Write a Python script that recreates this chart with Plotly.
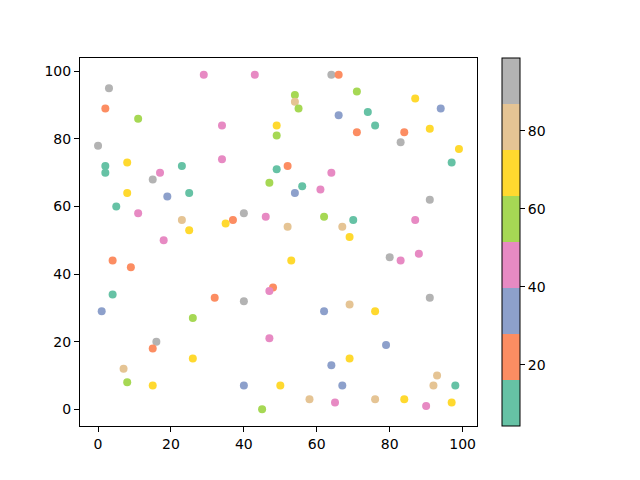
import plotly.graph_objects as go

x_vals = [29, 43, 3, 2, 11, 34, 49, 49, 0, 2, 2, 8, 23, 34, 17, 15, 49, 47, 8, 19,
          25, 5, 11, 23, 25, 37, 35, 40, 46, 18,
          64, 66, 71, 54, 54, 55, 87, 94, 66, 74, 76, 71, 84, 91, 83, 99, 97, 52, 64, 56,
          54, 61, 91, 62, 70, 52, 67, 69, 87,
          4, 9, 4, 1, 32, 40, 48, 47, 26, 16, 15, 47, 26, 7, 8, 15, 40, 50, 45,
          53, 80, 83, 88, 91, 62, 69, 76, 79, 69, 64, 67, 58, 65, 76, 84, 93, 92, 98, 90, 97]
y_vals = [99, 99, 95, 89, 86, 84, 84, 81, 78, 72, 70, 73, 72, 74, 70, 68, 71, 67, 64, 63,
          64, 60, 58, 56, 53, 56, 55, 58, 57, 50,
          99, 99, 94, 93, 91, 89, 92, 89, 87, 88, 84, 82, 82, 83, 79, 77, 73, 72, 70, 66,
          64, 65, 62, 57, 56, 54, 54, 51, 56,
          44, 42, 34, 29, 33, 32, 36, 35, 27, 20, 18, 21, 15, 12, 8, 7, 7, 7, 0,
          44, 45, 44, 46, 33, 29, 31, 29, 19, 15, 13, 7, 3, 2, 3, 3, 10, 7, 7, 1, 2]
# colour values (estimated, read from colour band)
c_vals = [46, 46, 93, 22, 57, 46, 69, 57, 93, 10, 10, 69, 10, 46, 46, 93, 10, 57, 69, 34,
          10, 10, 46, 81, 69, 22, 69, 93, 46, 46,
          93, 22, 57, 57, 81, 57, 69, 34, 34, 10, 10, 22, 22, 69, 93, 69, 10, 22, 46, 10,
          34, 46, 93, 57, 10, 81, 81, 69, 46,
          22, 22, 10, 34, 22, 93, 22, 46, 57, 93, 22, 46, 69, 81, 57, 69, 34, 69, 57,
          69, 93, 46, 46, 93, 34, 81, 69, 34, 69, 34, 34, 81, 46, 81, 69, 81, 81, 10, 46, 69]

c_min, c_max = 4.3, 98.7
set2 = ["#66c2a5", "#fc8d62", "#8da0cb", "#e78ac3", "#a6d854", "#ffd92f", "#e5c494", "#b3b3b3"]
n = len(set2)
cscale = []
for i, col in enumerate(set2):
    cscale.append([i / n, col])
    cscale.append([(i + 1) / n, col])

fig = go.Figure(go.Scatter(
    x=x_vals, y=y_vals, mode="markers",
    marker=dict(size=8, color=c_vals, colorscale=cscale, cmin=c_min, cmax=c_max,
                line=dict(width=0),
                colorbar=dict(x=1.063, xanchor="left", xpad=0, ypad=0, y=0.5, len=1.0,
                              thickness=18, outlinewidth=1, outlinecolor="black",
                              tickvals=[20, 40, 60, 80], ticks="outside", ticklen=5,
                              tickcolor="black", tickfont=dict(size=14, color="black"))),
    showlegend=False))

axis_common = dict(showline=True, linecolor="black", linewidth=1, mirror=True,
                   ticks="outside", ticklen=5, tickcolor="black", showgrid=False,
                   zeroline=False, tickfont=dict(size=14, color="black"))
fig.update_layout(
    width=640, height=480,
    margin=dict(l=80, r=163, t=58, b=54),
    paper_bgcolor="white", plot_bgcolor="white",
    font=dict(family="DejaVu Sans", size=14, color="black"),
    xaxis=dict(range=[-4.95, 103.95], tickvals=[0, 20, 40, 60, 80, 100], **axis_common),
    yaxis=dict(range=[-4.95, 103.95], tickvals=[0, 20, 40, 60, 80, 100], **axis_common),
)
fig.write_html("out.html", config={"displayModeBar": False},
               post_script="document.body.style.margin='0';")
